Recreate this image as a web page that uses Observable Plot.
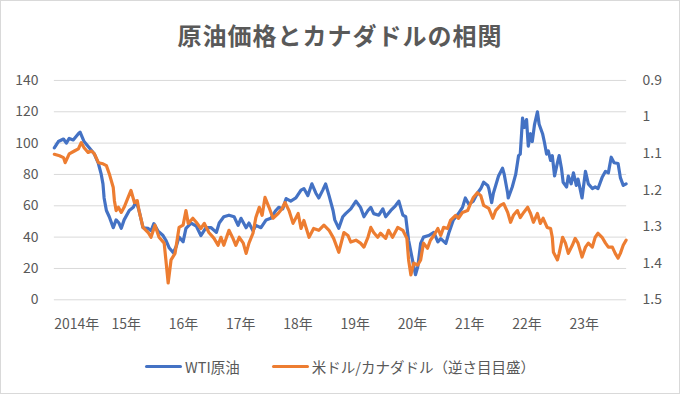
<!DOCTYPE html>
<html><head><meta charset="utf-8">
<script src="https://cdn.jsdelivr.net/npm/d3@7"></script>
<script src="https://cdn.jsdelivr.net/npm/@observablehq/plot@0.6"></script>
<style>
html,body{margin:0;padding:0;background:#fff;}
#wrap{width:680px;height:394px;box-sizing:border-box;border:1px solid #d9d9d9;font-family:"Noto Sans CJK JP","Noto Sans",sans-serif;color:#595959;position:relative;overflow:hidden;}
#title{height:59px;box-sizing:border-box;padding-top:10px;line-height:48px;text-align:center;font-size:24px;font-weight:bold;letter-spacing:1px;color:#595959;}
#legend{height:52px;display:flex;justify-content:center;align-items:center;font-size:14.5px;color:#595959;}
.item{display:flex;align-items:center;margin:0 16px;}
.sw{display:inline-block;width:37px;height:3px;border-radius:2px;margin-right:3px;}
#chart svg{display:block;}
</style></head>
<body><div id="wrap"><div id="title"></div><div id="chart"></div><div id="legend"></div></div>
<script>
const titleText = "原油価格とカナダドルの相関";
const seriesNames = ["WTI原油", "米ドル/カナダドル（逆さ目目盛）"];
const seriesColors = ["#4472C4", "#ED7D31"];
const yTicks = [0, 20, 40, 60, 80, 100, 120, 140];
const cadTicks = [0.9, 1.0, 1.1, 1.2, 1.3, 1.4, 1.5];
const yearTicks = [2014, 2015, 2016, 2017, 2018, 2019, 2020, 2021, 2022, 2023];
const yearLabels = ["2014年", "15年", "16年", "17年", "18年", "19年", "20年", "21年", "22年", "23年"];

// WTI crude oil (USD/bbl): [decimal year, value]
const wti = [[2014.00,97],[2014.07,101],[2014.16,102.6],[2014.21,100],[2014.26,103],[2014.33,102],[2014.42,106],[2014.45,107],[2014.52,101],[2014.61,97],[2014.70,93],[2014.77,87],[2014.82,80],[2014.85,74],[2014.87,65],[2014.91,57],[2014.96,53],[2015.03,46],[2015.08,51],[2015.13,49],[2015.17,45.6],[2015.22,51],[2015.31,57],[2015.38,59],[2015.43,63],[2015.48,57],[2015.55,46],[2015.64,45.6],[2015.69,44],[2015.74,48.6],[2015.81,44],[2015.90,41],[2015.95,38],[2016.01,33],[2016.08,30],[2016.13,34],[2016.18,40],[2016.25,37],[2016.30,45.6],[2016.39,49],[2016.48,47],[2016.56,41],[2016.65,46],[2016.74,46],[2016.83,43],[2016.88,49],[2016.96,53],[2017.05,54],[2017.14,53],[2017.21,47.5],[2017.26,52],[2017.35,46],[2017.40,49],[2017.47,44],[2017.52,47.5],[2017.61,46],[2017.70,51],[2017.78,52],[2017.87,57],[2017.92,59],[2017.99,58],[2018.05,64.6],[2018.13,63],[2018.22,65],[2018.31,70],[2018.36,71],[2018.43,66.5],[2018.50,74],[2018.57,68],[2018.62,65],[2018.69,70],[2018.74,74],[2018.80,66.5],[2018.87,57],[2018.90,51],[2018.97,45.6],[2019.04,53],[2019.09,55],[2019.18,58],[2019.27,63],[2019.35,59],[2019.41,53],[2019.48,57],[2019.53,59],[2019.58,55],[2019.67,54],[2019.74,58],[2019.79,53],[2019.88,57],[2019.96,60],[2020.02,63],[2020.09,54],[2020.14,53],[2020.19,38],[2020.26,25],[2020.31,16],[2020.35,21],[2020.40,36],[2020.45,40],[2020.54,41],[2020.63,43],[2020.70,37],[2020.75,39],[2020.84,36],[2020.89,42.5],[2020.97,51],[2021.06,55],[2021.13,59],[2021.18,65],[2021.24,61],[2021.32,63],[2021.39,68],[2021.45,71],[2021.50,75],[2021.57,73],[2021.59,71],[2021.64,62],[2021.67,68],[2021.76,79],[2021.83,84],[2021.86,80],[2021.92,68],[2021.93,65],[2022.00,72],[2022.06,80],[2022.11,92],[2022.14,93],[2022.18,116],[2022.21,110],[2022.25,115],[2022.28,98],[2022.32,106],[2022.35,101],[2022.39,112],[2022.44,120],[2022.47,112],[2022.53,106],[2022.56,101],[2022.60,93],[2022.63,95],[2022.67,89],[2022.70,92],[2022.74,79],[2022.79,87.5],[2022.82,92],[2022.86,84],[2022.89,75],[2022.95,72],[2022.98,79],[2023.03,74],[2023.07,81],[2023.12,73],[2023.15,77],[2023.22,65],[2023.28,82],[2023.33,74],[2023.40,71],[2023.45,72],[2023.50,71],[2023.57,78],[2023.63,82],[2023.68,81],[2023.73,91],[2023.78,87.5],[2023.85,87],[2023.89,78],[2023.94,73],[2023.99,74]];

// USD/CAD (reversed right axis): [decimal year, value]
const usdcad = [[2014.00,1.102],[2014.09,1.106],[2014.16,1.111],[2014.19,1.125],[2014.26,1.101],[2014.35,1.093],[2014.42,1.087],[2014.47,1.070],[2014.52,1.084],[2014.59,1.097],[2014.65,1.093],[2014.70,1.101],[2014.77,1.125],[2014.85,1.128],[2014.91,1.133],[2014.96,1.155],[2015.03,1.193],[2015.05,1.229],[2015.08,1.256],[2015.12,1.247],[2015.17,1.261],[2015.22,1.247],[2015.29,1.220],[2015.34,1.201],[2015.40,1.234],[2015.45,1.229],[2015.48,1.256],[2015.55,1.302],[2015.64,1.316],[2015.69,1.329],[2015.76,1.296],[2015.83,1.329],[2015.92,1.345],[2015.95,1.391],[2015.99,1.454],[2016.04,1.391],[2016.11,1.373],[2016.18,1.302],[2016.25,1.296],[2016.30,1.256],[2016.34,1.291],[2016.42,1.277],[2016.48,1.288],[2016.56,1.305],[2016.62,1.291],[2016.70,1.316],[2016.79,1.332],[2016.86,1.351],[2016.91,1.329],[2016.96,1.351],[2017.05,1.310],[2017.12,1.332],[2017.17,1.351],[2017.23,1.329],[2017.30,1.345],[2017.35,1.373],[2017.40,1.345],[2017.47,1.318],[2017.52,1.275],[2017.58,1.247],[2017.63,1.269],[2017.68,1.220],[2017.75,1.247],[2017.82,1.277],[2017.91,1.264],[2017.98,1.250],[2018.03,1.234],[2018.10,1.256],[2018.17,1.291],[2018.26,1.264],[2018.31,1.305],[2018.36,1.283],[2018.45,1.329],[2018.53,1.305],[2018.62,1.310],[2018.71,1.296],[2018.80,1.310],[2018.88,1.332],[2018.97,1.370],[2019.06,1.316],[2019.13,1.324],[2019.18,1.342],[2019.27,1.337],[2019.35,1.345],[2019.41,1.356],[2019.48,1.329],[2019.53,1.302],[2019.58,1.316],[2019.65,1.329],[2019.70,1.318],[2019.79,1.332],[2019.84,1.310],[2019.91,1.329],[2020.00,1.302],[2020.09,1.310],[2020.16,1.332],[2020.19,1.391],[2020.23,1.432],[2020.28,1.400],[2020.35,1.405],[2020.40,1.391],[2020.45,1.345],[2020.52,1.359],[2020.57,1.337],[2020.63,1.324],[2020.70,1.305],[2020.75,1.324],[2020.80,1.302],[2020.87,1.305],[2020.92,1.283],[2021.01,1.269],[2021.06,1.277],[2021.13,1.261],[2021.22,1.256],[2021.27,1.237],[2021.32,1.220],[2021.39,1.207],[2021.45,1.215],[2021.50,1.242],[2021.59,1.250],[2021.66,1.277],[2021.71,1.256],[2021.79,1.242],[2021.85,1.237],[2021.92,1.261],[2021.97,1.288],[2022.02,1.269],[2022.09,1.256],[2022.14,1.275],[2022.20,1.261],[2022.27,1.247],[2022.32,1.264],[2022.37,1.288],[2022.44,1.264],[2022.49,1.291],[2022.54,1.277],[2022.61,1.302],[2022.67,1.305],[2022.70,1.329],[2022.72,1.370],[2022.79,1.391],[2022.82,1.373],[2022.88,1.329],[2022.93,1.345],[2022.98,1.373],[2023.05,1.351],[2023.10,1.332],[2023.15,1.345],[2023.22,1.383],[2023.28,1.356],[2023.33,1.345],[2023.40,1.356],[2023.45,1.329],[2023.50,1.318],[2023.57,1.329],[2023.63,1.345],[2023.68,1.356],[2023.75,1.356],[2023.80,1.373],[2023.85,1.386],[2023.89,1.373],[2023.94,1.351],[2023.99,1.337]];

function toDate(t) {
  const y = Math.floor(t);
  const a = Date.UTC(y, 0, 1), b = Date.UTC(y + 1, 0, 1);
  return new Date(a + (t - y) * (b - a));
}
// right axis (reversed): 0.9 at top (=140), 1.5 at bottom (=0)
const cadToY = v => 140 - (v - 0.9) / 0.6 * 140;
const yToCad = y => 0.9 + (140 - y) / 140 * 0.6;

const oilData = wti.map(([t, v]) => ({date: toDate(t), y: v}));
const cadData = usdcad.map(([t, v]) => ({date: toDate(t), y: cadToY(v)}));

const font = '"Noto Sans CJK JP","Noto Sans",sans-serif';
const chart = Plot.plot({
  width: 680,
  height: 281,
  marginTop: 20,
  marginBottom: 41,
  marginLeft: 53,
  marginRight: 53,
  style: {fontFamily: font, fontSize: "14px", color: "#595959", background: "transparent"},
  x: {type: "utc", domain: [toDate(2014), toDate(2024)]},
  y: {domain: [0, 140]},
  marks: [
    Plot.gridY(yTicks, {stroke: "#d9d9d9", strokeOpacity: 1, strokeWidth: 1}),
    Plot.axisY({anchor: "left", ticks: yTicks, tickSize: 0, tickPadding: 16, label: null, fontSize: 14}),
    Plot.axisY({anchor: "right", ticks: cadTicks.map(cadToY), tickSize: 0, tickPadding: 16, label: null, fontSize: 14,
      tickFormat: d => String(Number(yToCad(d).toFixed(1)))}),
    Plot.axisX({ticks: yearTicks.map(toDate), tickSize: 0, tickPadding: 19, label: null, textAnchor: "start", fontSize: 14,
      tickFormat: d => yearLabels[yearTicks.indexOf(d.getUTCFullYear())]}),
    Plot.lineY(oilData, {x: "date", y: "y", stroke: seriesColors[0], strokeWidth: 3.2, strokeLinejoin: "round", strokeLinecap: "round"}),
    Plot.lineY(cadData, {x: "date", y: "y", stroke: seriesColors[1], strokeWidth: 3.2, strokeLinejoin: "round", strokeLinecap: "round"})
  ]
});
document.getElementById("title").textContent = titleText;
document.getElementById("chart").appendChild(chart);
const legend = document.getElementById("legend");
seriesNames.forEach((name, i) => {
  const it = document.createElement("div");
  it.className = "item";
  const sw = document.createElement("span");
  sw.className = "sw";
  sw.style.background = seriesColors[i];
  const tx = document.createElement("span");
  tx.textContent = name;
  it.appendChild(sw); it.appendChild(tx);
  legend.appendChild(it);
});
</script></body></html>
